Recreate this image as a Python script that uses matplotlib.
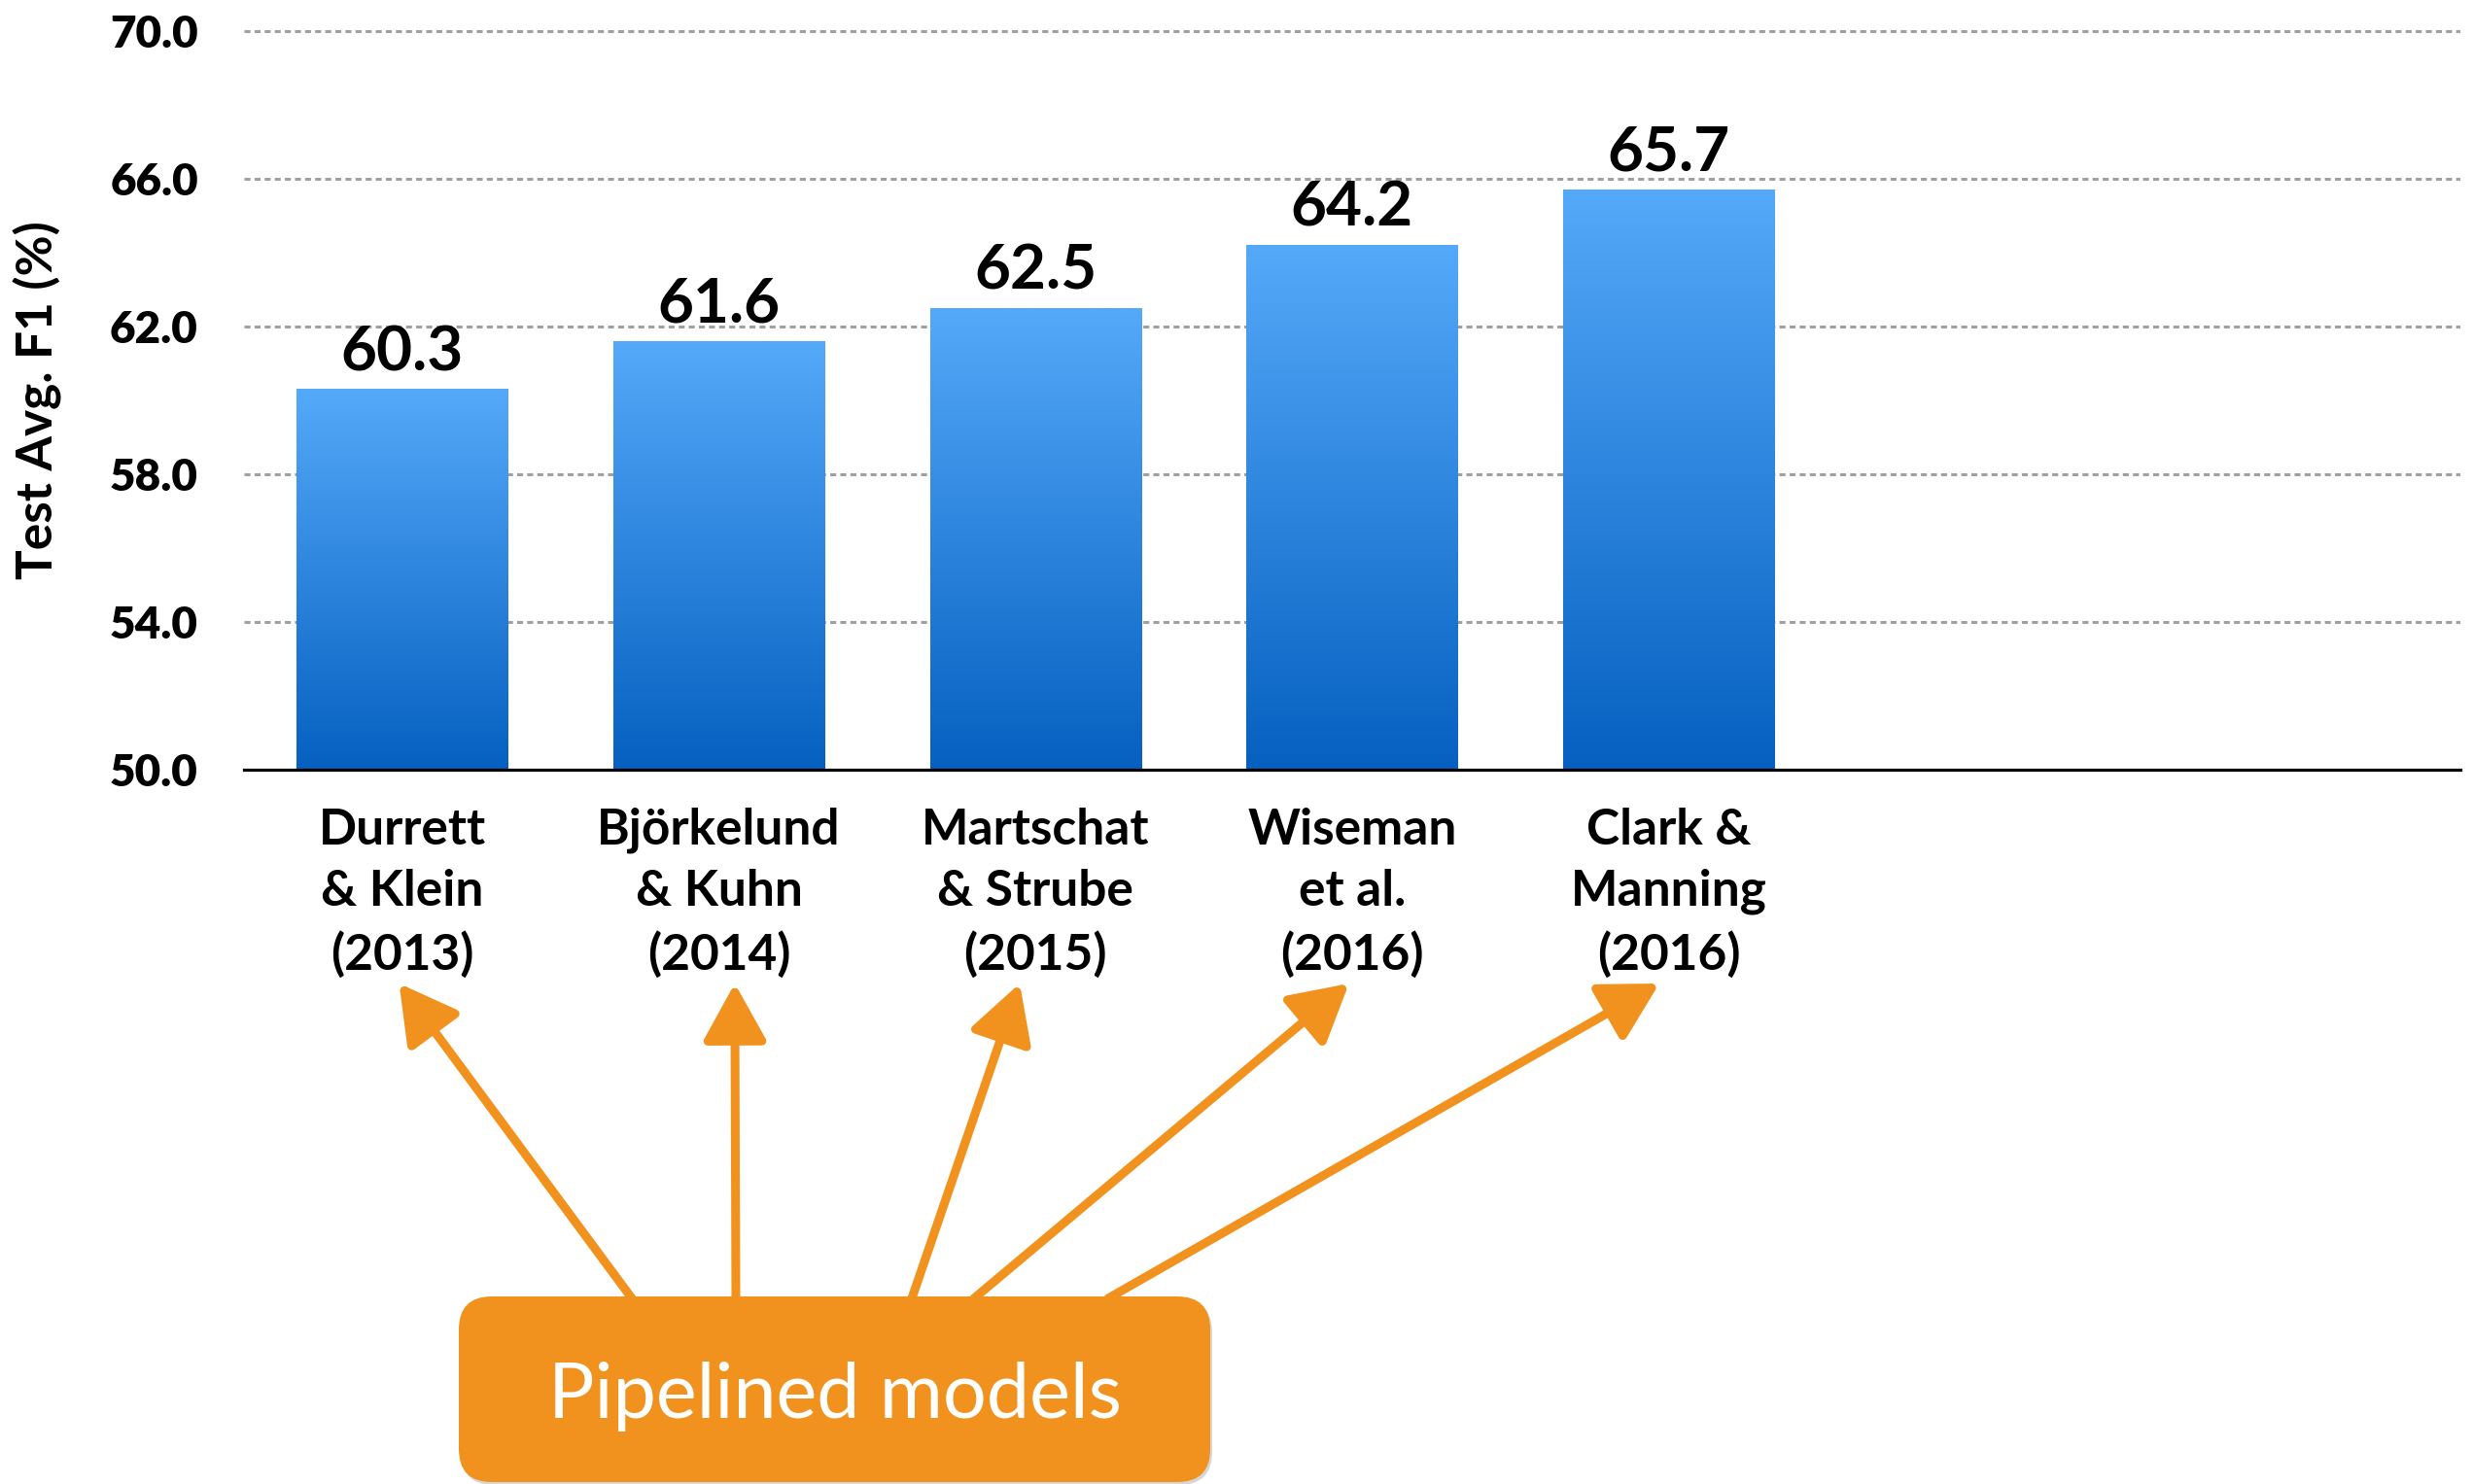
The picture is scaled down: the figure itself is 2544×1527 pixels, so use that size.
import numpy as np
import matplotlib
matplotlib.use("Agg")
import matplotlib.pyplot as plt
from matplotlib.colors import LinearSegmentedColormap
from matplotlib.patches import FancyBboxPatch
from matplotlib.transforms import IdentityTransform

# ---------------- data ----------------
categories = ["Durrett\n& Klein\n(2013)",
              "Björkelund\n& Kuhn\n(2014)",
              "Martschat\n& Strube\n(2015)",
              "Wiseman\net al.\n(2016)",
              "Clark &\nManning\n(2016)"]
scores = [60.3, 61.6, 62.5, 64.2, 65.7]
yticks = [50.0, 54.0, 58.0, 62.0, 66.0, 70.0]
ylabel = "Test Avg. F1 (%)"
callout_text = "Pipelined models"
n_slots = 7  # category slots on the axis (last two empty)

# ---------------- style ----------------
plt.rcParams["font.family"] = ["Lato", "DejaVu Sans"]
W, H = 2544, 1527
DPI = 100
fig = plt.figure(figsize=(W / DPI, H / DPI), dpi=DPI)
fig.patch.set_facecolor("white")

ax_left, ax_right = 251, 2531
y_bottom_px, y_top_px = 792, 13          # pixel rows for ylim bottom/top
ax = fig.add_axes([ax_left / W, 1 - y_bottom_px / H,
                   (ax_right - ax_left) / W, (y_bottom_px - y_top_px) / H])

x = np.arange(len(scores))
bar_w = 0.667
bars = ax.bar(x, [s - yticks[0] for s in scores], bottom=yticks[0], width=bar_w,
              color="#2E86DE", zorder=2, linewidth=0)

# vertical gradient inside each bar
cmap = LinearSegmentedColormap.from_list("blu", ["#0560C0", "#55A9F9"])
grad = np.linspace(0, 1, 256).reshape(-1, 1)
for b in bars:
    x0, y0 = b.get_x(), b.get_y()
    ax.imshow(grad, extent=[x0, x0 + b.get_width(), y0, y0 + b.get_height()],
              origin="lower", aspect="auto", cmap=cmap, zorder=3,
              interpolation="bilinear")

# value labels
for xi, s in zip(x, scores):
    ax.annotate(f"{s:.1f}", xy=(xi, s), xytext=(0, 14), textcoords="offset points",
                ha="center", va="baseline", fontsize=46, fontweight="bold",
                color="black", zorder=5)

ax.set_xlim(-0.5, n_slots - 0.5)
ax.set_ylim(yticks[0], 70.5)
ax.set_yticks(yticks)
ax.set_yticklabels([f"{t:.1f}" for t in yticks], fontsize=33, fontweight="heavy")
ax.set_xticks(x)
ax.set_xticklabels(categories, fontsize=37, fontweight="bold", linespacing=1.42)
ax.tick_params(axis="both", length=0)
ax.tick_params(axis="y", pad=34)
ax.tick_params(axis="x", pad=28)

# grid
for t in yticks[1:]:
    ax.axhline(t, color="#A0A0A0", linewidth=2.2, linestyle=(0, (2.0, 1.4)), zorder=1)

for sp in ["left", "right", "top"]:
    ax.spines[sp].set_visible(False)
ax.spines["bottom"].set_linewidth(2.3)
ax.spines["bottom"].set_color("black")
ax.spines["bottom"].set_zorder(4)

ax.set_ylabel(ylabel, fontsize=37, fontweight="bold")
ax.yaxis.set_label_coords((64 - ax_left) / (ax_right - ax_left),
                          1 - (412 - y_top_px) / (y_bottom_px - y_top_px))

# ---------------- callout box + arrows ----------------
orange = "#F2921E"
box_x0, box_x1 = 472, 1245
box_y0, box_y1 = H - 1525, H - 1334
shadow = FancyBboxPatch((box_x0 + 2, box_y0 - 3), box_x1 - box_x0, box_y1 - box_y0,
                        boxstyle="round,pad=0,rounding_size=34",
                        transform=IdentityTransform(), facecolor="#BBBBBB",
                        edgecolor="none", zorder=9, alpha=0.6)
fig.add_artist(shadow)
box = FancyBboxPatch((box_x0, box_y0), box_x1 - box_x0, box_y1 - box_y0,
                     boxstyle="round,pad=0,rounding_size=34",
                     transform=IdentityTransform(), facecolor=orange,
                     edgecolor="none", zorder=10)
fig.add_artist(box)
fig.text((box_x0 + box_x1) / 2, H - 1459, callout_text, transform=IdentityTransform(),
         ha="center", va="baseline", fontsize=57, color="white", zorder=11,
         fontfamily=["Lato", "DejaVu Sans"])

# arrows: tail on box top (figure pixels), tip just below each label (data x)
tails_px = [650, 757, 938, 1002, 1140]
tip_dx = [-0.01, 0.05, -0.05, -0.01, -0.03]
tip_y = H - 1012
tail_y = H - 1336
for i, (tx, dx) in enumerate(zip(tails_px, tip_dx)):
    ax.annotate("", xy=(x[i] + dx, tip_y), xycoords=("data", "figure pixels"),
                xytext=(tx, tail_y), textcoords="figure pixels",
                arrowprops=dict(arrowstyle="-|>,head_length=36,head_width=20",
                                mutation_scale=1, color=orange, lw=6.5,
                                shrinkA=0, shrinkB=0),
                annotation_clip=False, zorder=8)

fig.savefig("out.png", dpi=DPI, facecolor="white")
